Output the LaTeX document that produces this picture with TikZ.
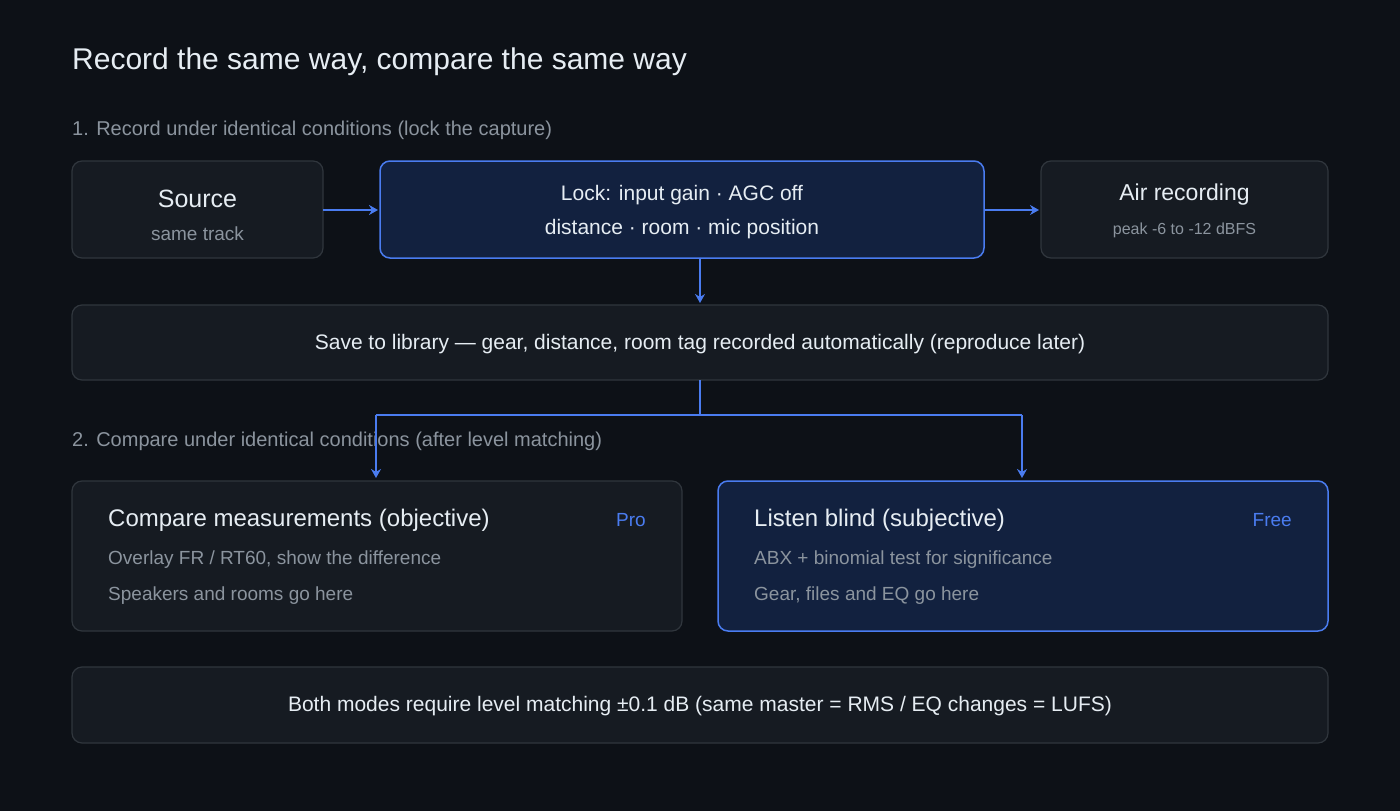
\documentclass[tikz,border=0pt]{standalone}
\usepackage{fontspec}
\setmainfont{Liberation Sans}
\usetikzlibrary{arrows.meta}
\definecolor{bg}{HTML}{0D1117}
\definecolor{boxf}{HTML}{161B22}
\definecolor{boxd}{HTML}{30363D}
\definecolor{bluef}{HTML}{12213F}
\definecolor{blued}{HTML}{4A7CF0}
\definecolor{txt}{HTML}{E6EDF3}
\definecolor{gry}{HTML}{8B949E}
\tikzset{
 box/.style={draw=boxd,fill=boxf,rounded corners=10pt,line width=1.2pt},
 bbox/.style={draw=blued,fill=bluef,rounded corners=10pt,line width=1.5pt},
 t/.style={text=txt,inner sep=0pt},
 g/.style={text=gry,inner sep=0pt},
 arr/.style={draw=blued,line width=2.5pt,-{Stealth[length=9pt,width=10pt]}},
 ln/.style={draw=blued,line width=2.5pt}
}
\newcommand{\fs}[1]{\fontsize{#1}{#1}\selectfont}
\begin{document}
\begin{tikzpicture}[x=1pt,y=-1pt]
\fill[bg] (0,0) rectangle (1400,811);
\useasboundingbox (0,0) rectangle (1400,811);
\node[t,anchor=west] (title) at (72,62) {\fs{30}Record the same way, compare the same way};
\node[g,anchor=west] (s1) at (72,130) {\fs{20}1. Record under identical conditions (lock the capture)};
\node[g,anchor=west] (s2) at (72,441) {\fs{20}2. Compare under identical conditions (after level matching)};
% row 1
\draw[box] (72,161) rectangle (323,258);
\node[t] (src) at (197.5,199) {\fs{25}Source};
\node[g] (srcs) at (197.5,234) {\fs{19}same track};
\coordinate (srcE) at (323,210);
\draw[bbox] (380,161) rectangle (984,258);
\node[t] (lk1) at (682,195) {\fs{21}Lock: input gain · AGC off};
\node[t] (lk2) at (682,229) {\fs{21}distance · room · mic position};
\coordinate (lkW) at (378,210);
\coordinate (lkE) at (984,210);
\coordinate (lkS) at (700,258);
\draw[box] (1041,161) rectangle (1328,258);
\node[t] (air) at (1184.5,195) {\fs{23}Air recording};
\node[g] (airs) at (1184.5,230) {\fs{16}peak -6 to -12 dBFS};
\coordinate (airW) at (1039,210);
\draw[arr] (srcE) -- (lkW);
\draw[arr] (lkE) -- (airW);
% save
\draw[box] (72,305) rectangle (1328,380);
\node[t] (save) at (700,344) {\fs{21}Save to library — gear, distance, room tag recorded automatically (reproduce later)};
\coordinate (saveN) at (700,303);
\coordinate (saveS) at (700,380);
\draw[arr] (lkS) -- (saveN);
\coordinate (j) at (700,415);
\coordinate (jl) at (376,415);
\coordinate (jr) at (1022,415);
\coordinate (cmpN) at (376,478);
\coordinate (lisN) at (1022,478);
\draw[ln] (saveS) -- (j);
\draw[ln] (jl) -- (jr);
\draw[arr] (jl) -- (cmpN);
\draw[arr] (jr) -- (lisN);
% compare
\draw[box] (72,481) rectangle (682,631);
\node[t,anchor=west] (cmp) at (108,520) {\fs{24}Compare measurements (objective)};
\node[text=blued,inner sep=0pt,anchor=east] (pro) at (646,520) {\fs{19}Pro};
\node[g,anchor=west] (c1) at (108,560) {\fs{19}Overlay FR / RT60, show the difference};
\node[g,anchor=west] (c2) at (108,596) {\fs{19}Speakers and rooms go here};
\draw[bbox] (718,481) rectangle (1328,631);
\node[t,anchor=west] (lis) at (754,520) {\fs{24}Listen blind (subjective)};
\node[text=blued,inner sep=0pt,anchor=east] (free) at (1292,520) {\fs{19}Free};
\node[g,anchor=west] (l1) at (754,560) {\fs{19}ABX + binomial test for significance};
\node[g,anchor=west] (l2) at (754,596) {\fs{19}Gear, files and EQ go here};
% bottom
\draw[box] (72,667) rectangle (1328,743);
\node[t] (both) at (700,706) {\fs{21}Both modes require level matching ±0.1 dB (same master = RMS / EQ changes = LUFS)};
\end{tikzpicture}
\end{document}
